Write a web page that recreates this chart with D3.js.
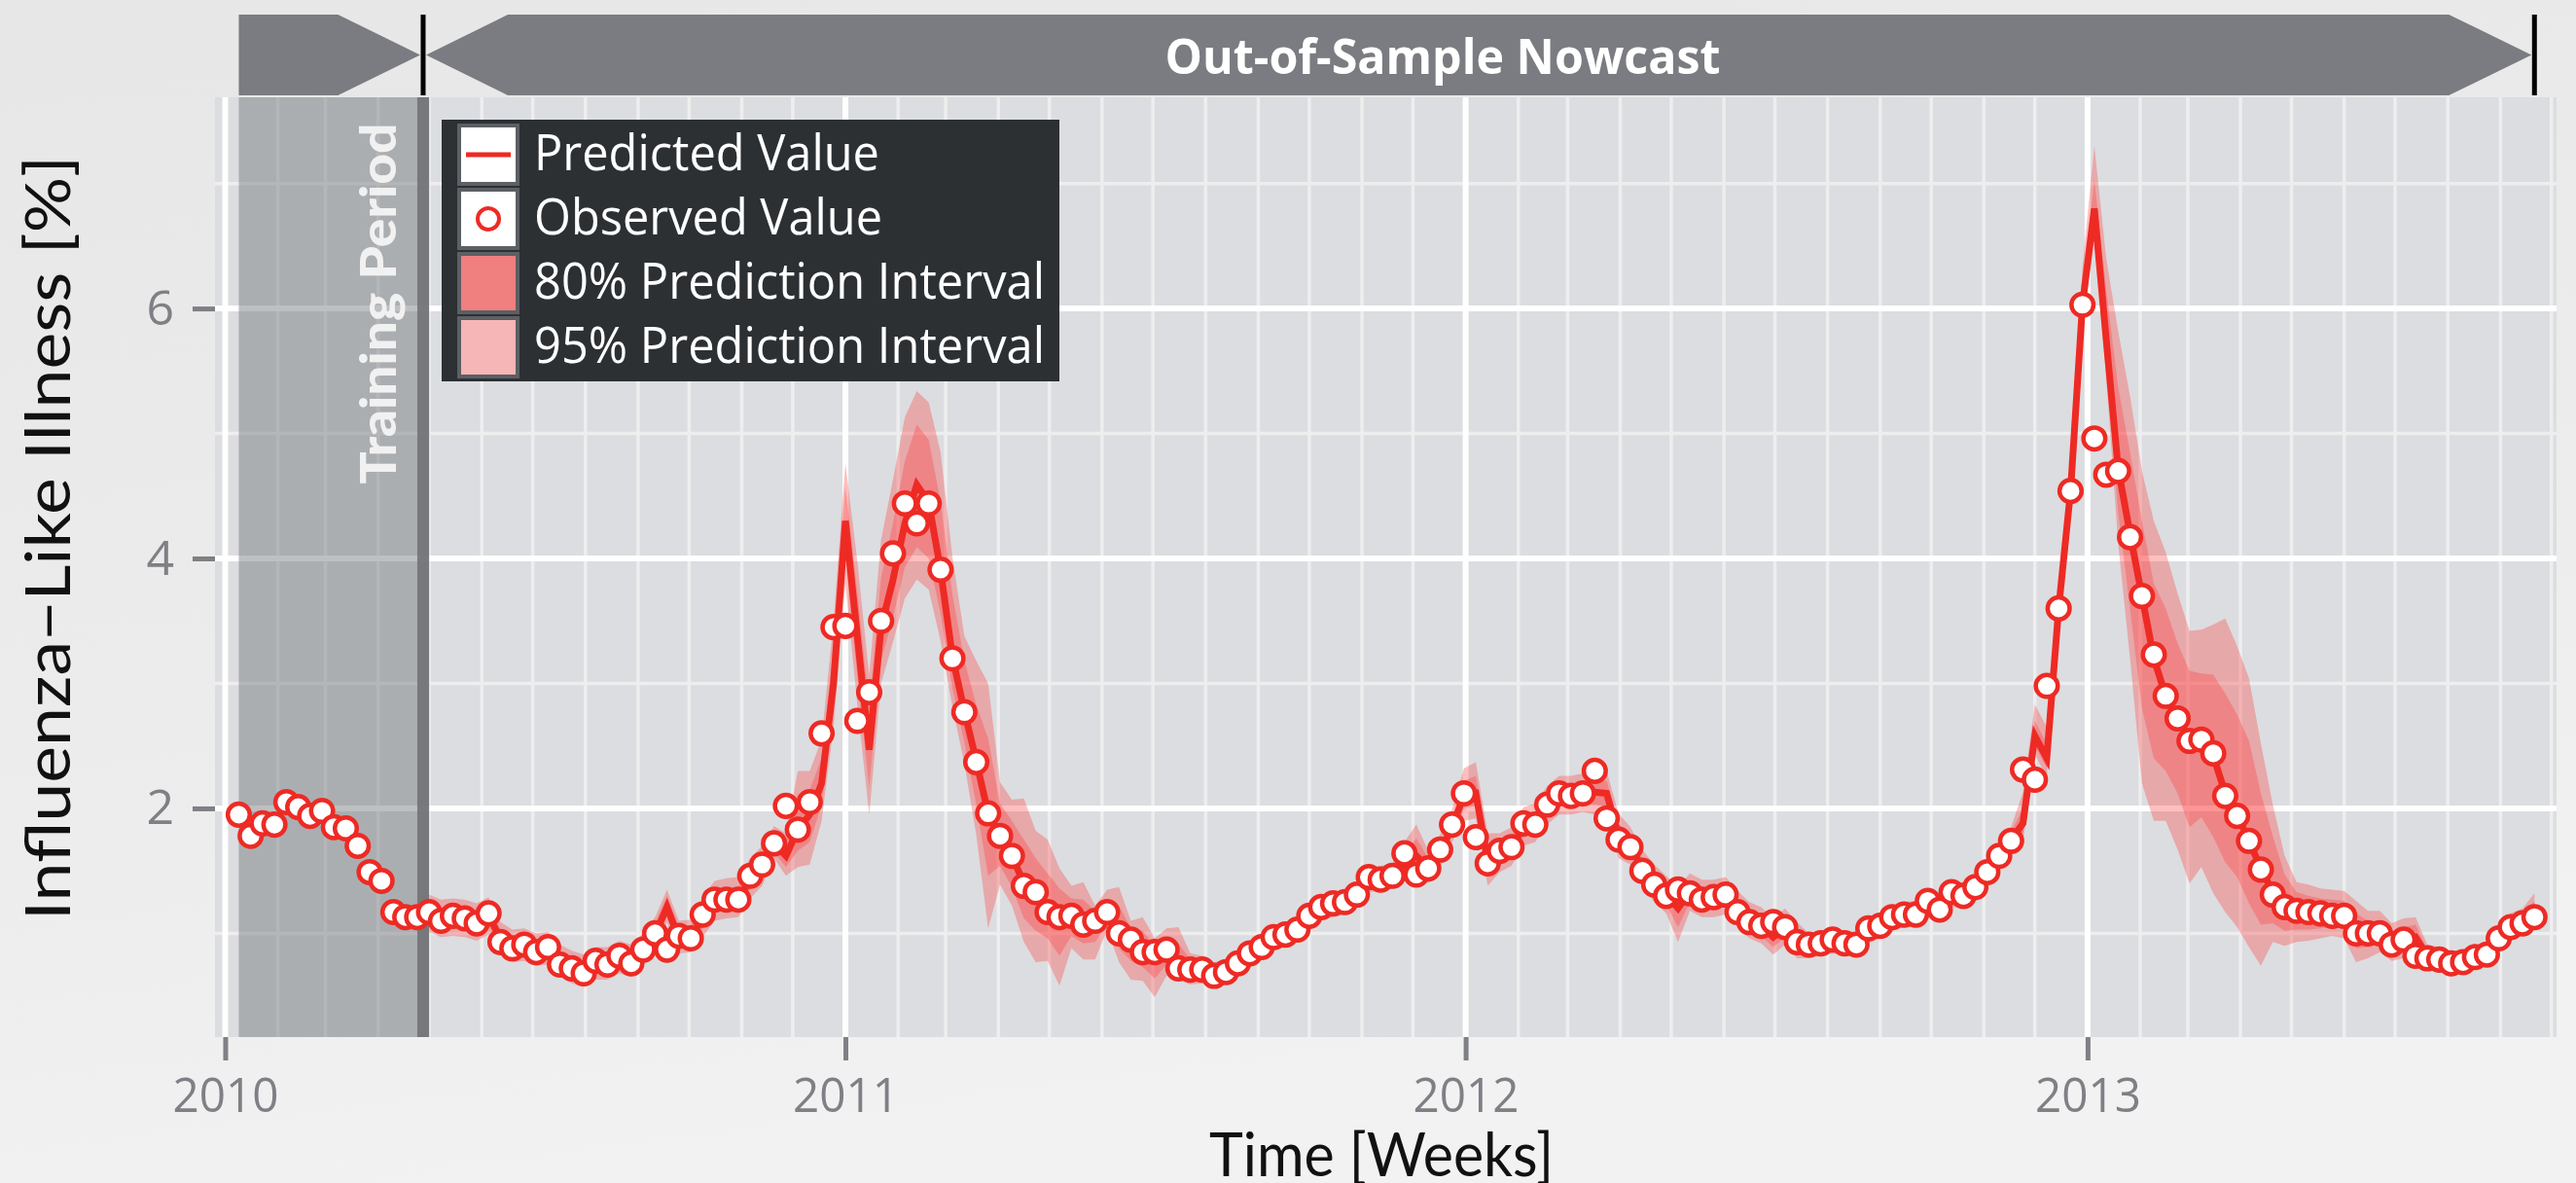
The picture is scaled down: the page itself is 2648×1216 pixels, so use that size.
<!DOCTYPE html>
<html>
<head>
<meta charset="utf-8">
<script src="https://cdn.jsdelivr.net/npm/d3@7"></script>
<style>
  html, body { margin: 0; padding: 0; background: #eaeaea; }
  svg { display: block; }
  text { font-family: "Open Sans", sans-serif; }
</style>
</head>
<body>
<svg id="chart"></svg>
<script>
const chartSize = {width: 2648, height: 1216};
const panel = {left: 221, right: 2628, top: 100, bottom: 1066};

// weekly ILI data, first week ending 2010-01-09
const firstWeek = "2010-01-09";
const trainingWeeks = 16;

const observed = [
  1.95,1.78,1.88,1.87,2.05,2.01,1.94,1.98,1.85,1.84,
  1.70,1.49,1.42,1.17,1.13,1.13,1.17,1.10,1.14,1.12,
  1.08,1.16,0.93,0.88,0.91,0.85,0.89,0.75,0.72,0.68,
  0.78,0.75,0.82,0.76,0.87,1.00,0.87,0.98,0.96,1.15,
  1.27,1.27,1.27,1.46,1.55,1.72,2.02,1.83,2.05,2.60,
  3.45,3.46,2.70,2.93,3.50,4.04,4.44,4.28,4.44,3.91,
  3.20,2.77,2.37,1.96,1.78,1.62,1.38,1.33,1.17,1.13,
  1.14,1.07,1.10,1.17,1.00,0.95,0.85,0.85,0.87,0.72,
  0.71,0.71,0.66,0.69,0.76,0.84,0.89,0.97,0.99,1.03,
  1.14,1.21,1.24,1.25,1.31,1.45,1.43,1.46,1.64,1.47,
  1.52,1.67,1.87,2.12,1.77,1.56,1.66,1.69,1.88,1.87,
  2.03,2.12,2.10,2.12,2.30,1.92,1.75,1.69,1.50,1.39,
  1.30,1.35,1.32,1.27,1.29,1.31,1.17,1.09,1.06,1.09,
  1.05,0.93,0.91,0.92,0.95,0.92,0.91,1.04,1.06,1.13,
  1.15,1.15,1.26,1.19,1.33,1.30,1.37,1.49,1.62,1.74,
  2.31,2.23,2.98,3.60,4.54,6.03,4.96,4.67,4.70,4.17,
  3.70,3.23,2.90,2.72,2.54,2.55,2.44,2.10,1.94,1.74,
  1.51,1.31,1.21,1.18,1.17,1.16,1.14,1.14,1.00,1.00,
  1.00,0.91,0.95,0.82,0.80,0.79,0.76,0.77,0.81,0.83,
  0.96,1.05,1.08,1.13
];

// nowcast, starts after the training weeks
const predicted = [
  1.16,1.12,1.13,1.12,1.09,1.14,0.96,0.90,0.91,0.87,
  0.88,0.78,0.73,0.70,0.76,0.76,0.81,0.78,0.86,0.99,
  1.21,0.96,0.97,1.12,1.25,1.27,1.28,1.43,1.53,1.72,
  1.62,1.83,1.95,2.20,3.00,4.30,3.38,2.47,3.45,3.83,
  4.28,4.59,4.45,3.91,3.21,2.78,2.38,1.96,1.79,1.62,
  1.40,1.32,1.18,1.14,1.13,1.09,1.10,1.15,1.02,0.96,
  0.87,0.82,0.86,0.74,0.71,0.71,0.67,0.69,0.75,0.83,
  0.89,0.96,0.99,1.03,1.13,1.20,1.23,1.25,1.30,1.43,
  1.44,1.46,1.55,1.62,1.52,1.65,1.85,2.10,2.12,1.58,
  1.64,1.69,1.85,1.88,2.02,2.10,2.10,2.12,2.13,2.12,
  1.78,1.70,1.52,1.40,1.31,1.20,1.33,1.28,1.28,1.30,
  1.19,1.10,1.06,0.97,1.05,0.94,0.90,0.92,0.94,0.92,
  0.91,1.02,1.06,1.12,1.15,1.16,1.24,1.21,1.31,1.31,
  1.36,1.48,1.61,1.75,1.88,2.58,2.40,3.60,4.54,6.03,
  6.80,5.75,4.72,4.20,3.70,3.20,2.90,2.72,2.55,2.53,
  2.42,2.12,1.95,1.74,1.52,1.33,1.22,1.18,1.17,1.16,
  1.15,1.14,1.02,1.00,1.00,0.93,0.95,0.97,0.82,0.80,
  0.77,0.77,0.80,0.83,0.95,1.04,1.08,1.20
];

// interval depth below / height above the nowcast
const below95 = [
  .15,.15,.15,.15,.15,.15,.13,.13,.13,.13,
  .13,.13,.13,.13,.13,.13,.13,.13,.12,.12,
  .12,.12,.12,.15,.15,.15,.15,.15,.15,.12,
  .16,.30,.40,.30,.35,.50,.55,.52,.45,.50,
  .60,.76,.70,.57,.40,.42,.59,.92,.40,.40,
  .47,.55,.40,.56,.25,.30,.31,.12,.25,.33,
  .25,.33,.20,.11,.12,.11,.10,.10,.10,.10,
  .10,.10,.10,.10,.10,.10,.10,.10,.10,.10,
  .10,.10,.12,.14,.12,.12,.12,.20,.20,.20,
  .15,.15,.15,.15,.15,.15,.15,.15,.18,.18,
  .18,.15,.15,.15,.15,.27,.15,.15,.15,.15,
  .14,.14,.14,.14,.14,.14,.10,.10,.10,.10,
  .10,.10,.10,.10,.10,.10,.10,.10,.10,.10,
  .10,.10,.10,.10,.15,.15,.15,.12,.12,.15,
  .25,.30,.60,1.00,1.50,1.30,1.00,1.05,1.15,1.00,
  1.10,.95,.90,.85,.78,.40,.32,.25,.23,.20,
  .17,.18,.25,.20,.15,.15,.15,.15,.08,.08,
  .08,.08,.08,.08,.08,.08,.08,.08
];
const below80 = [
  .08,.08,.08,.08,.08,.08,.07,.07,.07,.07,
  .07,.07,.07,.07,.07,.07,.07,.07,.07,.07,
  .07,.07,.07,.08,.08,.08,.08,.08,.08,.07,
  .09,.17,.22,.17,.20,.30,.32,.30,.27,.30,
  .35,.50,.45,.35,.25,.25,.35,.50,.25,.25,
  .28,.30,.22,.32,.15,.17,.17,.07,.14,.18,
  .14,.18,.11,.06,.07,.06,.06,.06,.06,.06,
  .06,.06,.06,.06,.06,.06,.06,.06,.06,.06,
  .06,.06,.07,.08,.07,.07,.07,.10,.10,.10,
  .08,.08,.08,.08,.08,.08,.08,.08,.10,.10,
  .10,.08,.08,.08,.08,.15,.08,.08,.08,.08,
  .08,.08,.08,.08,.08,.08,.06,.06,.06,.06,
  .06,.06,.06,.06,.06,.06,.06,.06,.06,.06,
  .06,.06,.06,.06,.08,.08,.08,.07,.07,.08,
  .12,.15,.35,.60,.90,.80,.60,.60,.70,.60,
  .65,.55,.50,.50,.45,.25,.20,.15,.14,.12,
  .10,.10,.14,.11,.08,.08,.08,.08,.05,.05,
  .05,.05,.05,.05,.05,.05,.05,.05
];
const above80 = [
  .08,.08,.08,.08,.08,.08,.07,.07,.07,.07,
  .07,.07,.07,.07,.07,.07,.07,.07,.09,.09,
  .09,.09,.09,.09,.09,.09,.09,.09,.09,.08,
  .10,.28,.20,.20,.30,.28,.35,.35,.40,.45,
  .50,.48,.50,.55,.50,.40,.45,.60,.25,.28,
  .35,.28,.30,.22,.15,.18,.08,.12,.20,.08,
  .15,.08,.10,.18,.08,.06,.06,.06,.06,.06,
  .06,.06,.06,.06,.06,.06,.06,.06,.06,.06,
  .06,.06,.10,.14,.08,.08,.08,.12,.14,.12,
  .09,.09,.09,.09,.09,.09,.09,.09,.10,.10,
  .10,.08,.08,.08,.08,.10,.08,.08,.08,.08,
  .08,.08,.08,.08,.08,.08,.06,.06,.06,.06,
  .06,.06,.06,.06,.06,.06,.06,.06,.06,.06,
  .06,.06,.06,.06,.12,.12,.12,.08,.08,.15,
  .23,.40,.65,.65,.60,.60,.70,.60,.55,.55,
  .65,.80,.80,.80,.60,.45,.25,.15,.13,.12,
  .12,.12,.14,.10,.10,.09,.10,.10,.05,.05,
  .05,.05,.05,.05,.06,.06,.06,.06
];
const above95 = [
  .15,.15,.15,.15,.15,.15,.13,.13,.13,.13,
  .13,.13,.13,.13,.13,.13,.13,.13,.14,.14,
  .14,.14,.14,.17,.17,.17,.17,.17,.17,.14,
  .18,.47,.35,.35,.50,.46,.60,.60,.70,.80,
  .85,.75,.80,.94,.80,.60,.80,1.04,.42,.45,
  .68,.50,.57,.38,.25,.32,.12,.20,.35,.14,
  .26,.14,.18,.31,.13,.11,.10,.10,.10,.10,
  .10,.10,.10,.10,.10,.10,.10,.10,.10,.10,
  .10,.10,.18,.25,.14,.14,.14,.22,.25,.22,
  .16,.16,.16,.16,.16,.16,.16,.16,.18,.18,
  .18,.15,.15,.15,.15,.17,.15,.15,.15,.15,
  .15,.15,.15,.15,.15,.15,.10,.10,.10,.10,
  .10,.10,.10,.10,.10,.10,.10,.10,.10,.10,
  .10,.10,.10,.10,.25,.25,.25,.14,.14,.30,
  .50,.65,1.10,1.10,1.00,1.10,1.15,1.00,.87,.90,
  1.05,1.40,1.35,1.30,1.00,.70,.40,.23,.22,.20,
  .20,.20,.24,.18,.18,.15,.17,.16,.09,.09,
  .09,.09,.09,.09,.12,.12,.12,.12
];

const yMajorTicks = [2, 4, 6];
const yMinorTicks = [1, 3, 5, 7];
const xTickYears = ["2010", "2011", "2012", "2013"];
const legendLabels = ["Predicted Value", "Observed Value", "80% Prediction Interval", "95% Prediction Interval"];

const RED = "#ee2a24";
const TICK_GREY = "#7f8085";

const parse = d3.timeParse("%Y-%m-%d");
const weeks = d3.range(observed.length).map(i => d3.timeDay.offset(parse(firstWeek), 7 * i));

const x = d3.scaleTime()
  .domain([parse("2009-12-26"), parse("2013-10-04")])
  .range([panel.left, panel.right]);

const y = d3.scaleLinear()
  .domain([0.17, 7.69])
  .range([panel.bottom, panel.top]);

const fit = (sel, len) => sel.attr("textLength", len).attr("lengthAdjust", "spacingAndGlyphs");

const svg = d3.select("#chart")
  .attr("width", chartSize.width)
  .attr("height", chartSize.height);

// page background
const defs = svg.append("defs");
const bg = defs.append("linearGradient").attr("id", "bg").attr("x1", 0).attr("y1", 0).attr("x2", 0.3).attr("y2", 1);
bg.append("stop").attr("offset", "0%").attr("stop-color", "#e7e7e7");
bg.append("stop").attr("offset", "60%").attr("stop-color", "#ececec");
bg.append("stop").attr("offset", "100%").attr("stop-color", "#f2f2f2");
svg.append("rect").attr("width", chartSize.width).attr("height", chartSize.height).attr("fill", "url(#bg)");

// panel
svg.append("rect")
  .attr("x", panel.left).attr("y", panel.top)
  .attr("width", panel.right - panel.left).attr("height", panel.bottom - panel.top)
  .attr("fill", "#dcdde0");

const grid = svg.append("g");
const years = d3.timeYear.range(x.domain()[0], x.domain()[1]);
const months = d3.timeMonth.range(x.domain()[0], x.domain()[1]).filter(d => d.getMonth() !== 0);

grid.selectAll(".ymin").data(yMinorTicks).enter().append("line")
  .attr("x1", panel.left).attr("x2", panel.right)
  .attr("y1", d => y(d)).attr("y2", d => y(d))
  .attr("stroke", "#eeeeef").attr("stroke-width", 3.5);

grid.selectAll(".xmin").data(months).enter().append("line")
  .attr("x1", d => x(d)).attr("x2", d => x(d))
  .attr("y1", panel.top).attr("y2", panel.bottom)
  .attr("stroke", "#eeeeef").attr("stroke-width", 3.5);

grid.selectAll(".ymaj").data(yMajorTicks).enter().append("line")
  .attr("x1", panel.left).attr("x2", panel.right)
  .attr("y1", d => y(d)).attr("y2", d => y(d))
  .attr("stroke", "#ffffff").attr("stroke-width", 6);

grid.selectAll(".xmaj").data(years).enter().append("line")
  .attr("x1", d => x(d)).attr("x2", d => x(d))
  .attr("y1", panel.top).attr("y2", panel.bottom)
  .attr("stroke", "#ffffff").attr("stroke-width", 6);

// training period shading
const trainStart = x(weeks[0]);
const trainEnd = x(weeks[trainingWeeks - 1]);
const nowcastStart = x(weeks[trainingWeeks]);

svg.append("rect")
  .attr("x", trainStart).attr("y", panel.top)
  .attr("width", trainEnd - trainStart).attr("height", panel.bottom - panel.top)
  .attr("fill", "#797c80").attr("fill-opacity", 0.49);

svg.append("rect")
  .attr("x", trainEnd).attr("y", panel.top)
  .attr("width", nowcastStart - trainEnd).attr("height", panel.bottom - panel.top)
  .attr("fill", "#6c6f73").attr("fill-opacity", 0.92);

svg.append("text")
  .attr("transform", `translate(${(trainStart + trainEnd) / 2 + 70},312) rotate(-90)`)
  .attr("text-anchor", "middle")
  .style("font-family", "Lato, sans-serif")
  .style("font-weight", 900)
  .style("font-size", "51px")
  .attr("fill", "#f1f1f1")
  .text("Training Period")
  .call(fit, 371);

// prediction intervals and nowcast line
const nowcast = predicted.map((p, k) => ({
  date: weeks[trainingWeeks + k],
  value: p,
  lo95: p - below95[k], lo80: p - below80[k],
  hi80: p + above80[k], hi95: p + above95[k]
}));

const band = (lo, hi) => d3.area()
  .x(d => x(d.date))
  .y0(d => y(d[lo]))
  .y1(d => y(d[hi]));

svg.append("path").datum(nowcast)
  .attr("d", band("lo95", "hi95"))
  .attr("fill", "#ff3c3c").attr("fill-opacity", 0.33);

svg.append("path").datum(nowcast)
  .attr("d", band("lo80", "hi80"))
  .attr("fill", "#ff3c3c").attr("fill-opacity", 0.33);

svg.append("path").datum(nowcast)
  .attr("d", d3.line().x(d => x(d.date)).y(d => y(d.value)))
  .attr("fill", "none").attr("stroke", RED).attr("stroke-width", 7);

svg.append("g").selectAll("circle")
  .data(observed.map((v, i) => ({date: weeks[i], value: v})))
  .enter().append("circle")
  .attr("cx", d => x(d.date))
  .attr("cy", d => y(d.value))
  .attr("r", 11.3)
  .attr("fill", "#ffffff")
  .attr("stroke", RED)
  .attr("stroke-width", 4.5);

// axes
const yAxis = d3.axisLeft(y).tickValues(yMajorTicks).tickSize(23).tickPadding(19).tickFormat(d3.format("d"));
const xAxis = d3.axisBottom(x)
  .tickValues(xTickYears.map(d3.timeParse("%Y")))
  .tickSize(24).tickPadding(17)
  .tickFormat(d3.timeFormat("%Y"));

const gy = svg.append("g").attr("transform", `translate(${panel.left},0)`).call(yAxis);
const gx = svg.append("g").attr("transform", `translate(0,${panel.bottom})`).call(xAxis);

[gx, gy].forEach(g => {
  g.select(".domain").remove();
  g.selectAll(".tick line").attr("stroke", TICK_GREY).attr("stroke-width", 5);
  g.selectAll(".tick text")
    .attr("fill", TICK_GREY)
    .style("font-family", "'Open Sans', sans-serif")
    .style("font-size", "50px");
});
gx.selectAll(".tick text").call(fit, 109);

svg.append("text")
  .attr("transform", "translate(72,553) rotate(-90)")
  .attr("text-anchor", "middle")
  .style("font-family", "Lato, sans-serif")
  .style("font-size", "64px")
  .attr("fill", "#111111")
  .text("Influenza\u2212Like Illness [%]")
  .call(fit, 786);

svg.append("text")
  .attr("x", 1420).attr("y", 1209)
  .attr("text-anchor", "middle")
  .style("font-family", "Lato, sans-serif")
  .style("font-size", "62px")
  .attr("fill", "#111111")
  .text("Time [Weeks]")
  .call(fit, 354);

// phase banner on top
const banner = svg.append("g");
const bTop = 15, bBot = 98, bMid = (bTop + bBot) / 2;
const divider = (trainEnd + nowcastStart) / 2;
const lastWeek = x(weeks[weeks.length - 1]);

banner.append("polygon")
  .attr("points", [[trainStart, bTop], [trainStart + 102, bTop], [divider - 3, bMid], [trainStart + 102, bBot], [trainStart, bBot]].join(" "))
  .attr("fill", "#7b7c81");

banner.append("polygon")
  .attr("points", [[divider + 3, bMid], [divider + 87, bTop], [lastWeek - 88, bTop], [lastWeek - 3, bMid], [lastWeek - 88, bBot], [divider + 87, bBot]].join(" "))
  .attr("fill", "#7b7c81");

banner.selectAll(".sep").data([divider, lastWeek]).enter().append("line")
  .attr("x1", d => d).attr("x2", d => d)
  .attr("y1", bTop).attr("y2", bBot)
  .attr("stroke", "#000000").attr("stroke-width", 5);

banner.append("text")
  .attr("x", 1483).attr("y", 76)
  .attr("text-anchor", "middle")
  .style("font-size", "50px")
  .style("font-weight", 700)
  .attr("fill", "#ffffff")
  .text("Out-of-Sample Nowcast")
  .call(fit, 571);

// legend
const legend = svg.append("g").attr("transform", "translate(454,123)");
legend.append("rect").attr("width", 635).attr("height", 269).attr("fill", "#2d3033");

const keyFill = ["#ffffff", "#ffffff", "#f07f80", "#f6b5b7"];
const labelWidth = [355, 358, 525, 525];

const rows = legend.selectAll(".row").data(legendLabels).enter().append("g")
  .attr("transform", (d, i) => `translate(0,${6 + i * 66})`);

rows.append("rect")
  .attr("x", 18).attr("y", 0).attr("width", 60).attr("height", 60)
  .attr("fill", (d, i) => keyFill[i])
  .attr("stroke", "#5c5f63").attr("stroke-width", 4);

rows.append("text")
  .attr("x", 95).attr("y", 46)
  .style("font-size", "52px")
  .attr("fill", "#ffffff")
  .text(d => d)
  .each(function(d, i) { d3.select(this).call(fit, labelWidth[i]); });

rows.filter((d, i) => i === 0).append("line")
  .attr("x1", 25).attr("x2", 71).attr("y1", 30).attr("y2", 30)
  .attr("stroke", RED).attr("stroke-width", 5);

rows.filter((d, i) => i === 1).append("circle")
  .attr("cx", 48).attr("cy", 30).attr("r", 11)
  .attr("fill", "#ffffff").attr("stroke", RED).attr("stroke-width", 4);
</script>
</body>
</html>
